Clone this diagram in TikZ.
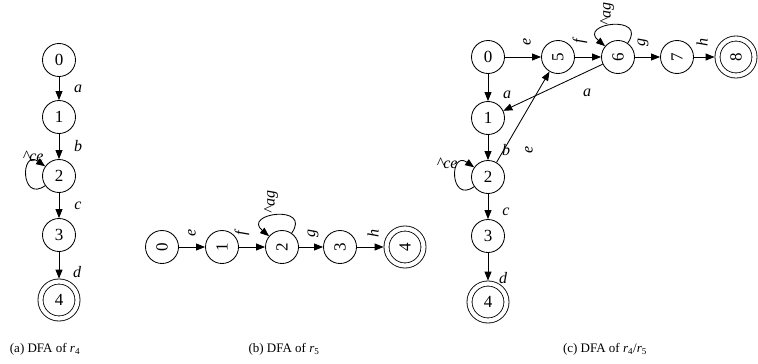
\documentclass[tikz,border=0pt]{standalone}
\usepackage{fontspec}
\setmainfont{Liberation Serif}
\usetikzlibrary{arrows.meta}
\begin{document}
\begin{tikzpicture}[x=1pt,y=-1pt,
  state/.style={circle,draw,line width=0.85pt,minimum size=33pt,inner sep=0pt,font=\fontsize{17}{17}\selectfont},
  accept/.style={state,minimum size=37pt,double,double distance=4.2pt,outer sep=2.9pt},
  tr/.style={-{Triangle[length=9pt,width=7pt]},line width=0.85pt},
  lab/.style={font=\fontsize{16}{16}\selectfont\itshape,inner sep=0pt},
  captext/.style={font=\fontsize{13}{13}\selectfont,inner sep=0pt}]
\useasboundingbox (0,0) rectangle (758,364);
% (a)
\node[state] (a0) at (59,60) {0};
\node[state] (a1) at (59,117) {1};
\node[state] (a2) at (59,176) {2};
\node[state] (a3) at (59,235) {3};
\node[accept] (a4) at (59,300) {4};
\draw[tr] (a0) -- (a1);
\draw[tr] (a1) -- (a2);
\draw[tr] (a2) -- (a3);
\draw[tr] (a3) -- (a4);
\draw[tr] (a2) to[out=215,in=145,looseness=4] (a2);
\node[lab] (la1) at (78,89) {a};
\node[lab] (la2) at (78,146) {b};
\node[lab] (la3) at (78,206) {c};
\node[lab] (la4) at (77,272) {d};
\node[lab] (la5) at (33,156) {\textasciicircum ce};
\node[captext] (capa) at (45,349) {(a) DFA of \textit{r}\textsubscript{4}};
% (b)
\node[state] (b0) at (162,247) {\rotatebox{90}{0}};
\node[state] (b1) at (222,247) {\rotatebox{90}{1}};
\node[state] (b2) at (282,247) {\rotatebox{90}{2}};
\node[state] (b3) at (340,247) {\rotatebox{90}{3}};
\node[accept] (b4) at (405,247) {\rotatebox{90}{4}};
\draw[tr] (b0) -- (b1);
\draw[tr] (b1) -- (b2);
\draw[tr] (b2) -- (b3);
\draw[tr] (b3) -- (b4);
\draw[tr] (b2) to[out=55,in=140,looseness=4] (b2);
\node[lab] (lb1) at (192,233) {\rotatebox{90}{e}};
\node[lab] (lb2) at (242,233) {\rotatebox{90}{f}};
\node[lab] (lb3) at (313,233) {\rotatebox{90}{g}};
\node[lab] (lb4) at (373,233) {\rotatebox{90}{h}};
\node[lab] (lb5) at (271,202) {\rotatebox{90}{\textasciicircum ag}};
\node[captext] (capb) at (284,349) {(b) DFA of \textit{r}\textsubscript{5}};
% (c)
\node[state] (c0) at (488,57) {0};
\node[state] (c5) at (558,57) {\rotatebox{90}{5}};
\node[state] (c6) at (618,57) {\rotatebox{90}{6}};
\node[state] (c7) at (677,57) {\rotatebox{90}{7}};
\node[accept] (c8) at (736,57) {\rotatebox{90}{8}};
\node[state] (c1) at (488,118) {1};
\node[state] (c2) at (488,177) {2};
\node[state] (c3) at (488,236) {3};
\node[accept] (c4) at (488,302) {4};
\draw[tr] (c0) -- (c5);
\draw[tr] (c5) -- (c6);
\draw[tr] (c6) -- (c7);
\draw[tr] (c7) -- (c8);
\draw[tr] (c0) -- (c1);
\draw[tr] (c6) -- (c1);
\draw[tr] (c2) -- (c5);
\draw[tr] (c1) -- (c2);
\draw[tr] (c2) -- (c3);
\draw[tr] (c3) -- (c4);
\draw[tr] (c2) to[out=215,in=145,looseness=4] (c2);
\draw[tr] (c6) to[out=55,in=140,looseness=4] (c6);
\node[lab] (lc1) at (527,42) {\rotatebox{90}{e}};
\node[lab] (lc2) at (580,41) {\rotatebox{90}{f}};
\node[lab] (lc3) at (643,42) {\rotatebox{90}{g}};
\node[lab] (lc4) at (702,42) {\rotatebox{90}{h}};
\node[lab] (lc5) at (507,95) {a};
\node[lab] (lc6) at (587,93) {a};
\node[lab] (lc7) at (529,150) {\rotatebox{90}{e}};
\node[lab] (lc8) at (506,150) {b};
\node[lab] (lc9) at (506,212) {c};
\node[lab] (lc10) at (503,278) {d};
\node[lab] (lc11) at (447,163) {\textasciicircum ce};
\node[lab] (lc12) at (607,14) {\rotatebox{90}{\textasciicircum ag}};
\node[captext] (capc) at (605,349) {(c) DFA of \textit{r}\textsubscript{4}/\textit{r}\textsubscript{5}};
\end{tikzpicture}
\end{document}
